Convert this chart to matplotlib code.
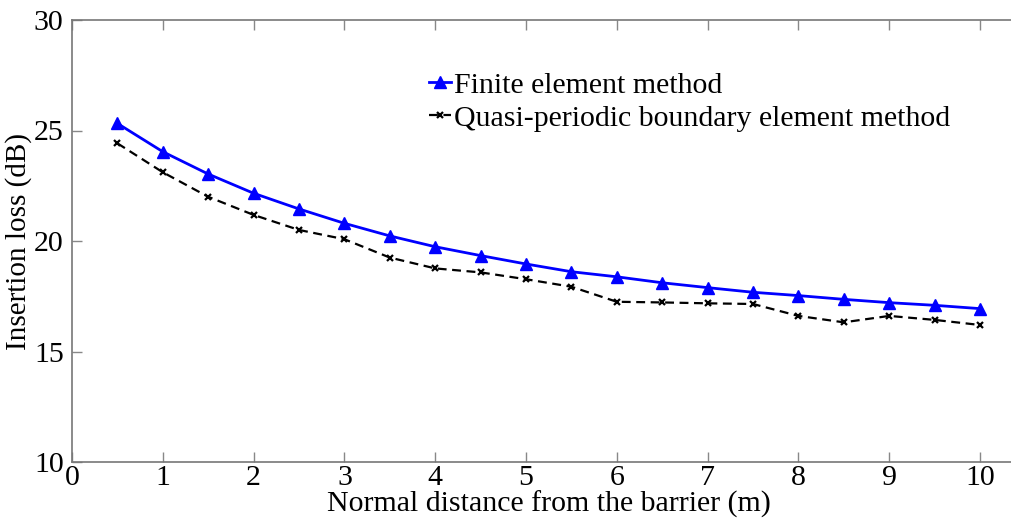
import matplotlib
matplotlib.use("Agg")
import matplotlib.pyplot as plt

x = [0.5, 1, 1.5, 2, 2.5, 3, 3.5, 4, 4.5, 5, 5.5, 6, 6.5, 7, 7.5, 8, 8.5, 9, 9.5, 10]
fem = [25.32, 24.04, 23.03, 22.16, 21.45, 20.80, 20.23, 19.74, 19.34, 18.96,
       18.61, 18.38, 18.11, 17.89, 17.68, 17.53, 17.36, 17.21, 17.09, 16.94]
qpbem = [24.42, 23.11, 22.00, 21.18, 20.50, 20.08, 19.25, 18.76, 18.58, 18.27,
         17.93, 17.25, 17.22, 17.18, 17.15, 16.61, 16.32, 16.61, 16.43, 16.20]
xticks = list(range(0, 11))
yticks = [10, 15, 20, 25, 30]
labels = ["Finite element method", "Quasi-periodic boundary element method"]

plt.rcParams['font.family'] = ['Liberation Serif', 'DejaVu Serif']

W, H = 1011, 520
fig = plt.figure(figsize=(W / 100, H / 100), dpi=100)
# x=0 at px 72, x=10 at px 980 ; y=30 at px 20, y=10 at px 462
x0, x10 = 72, 980
xmax = 10.5
right_px = x0 + (x10 - x0) / 10 * xmax
ax_w = right_px - x0
ax = fig.add_axes([x0 / W, (H - 462) / H, ax_w / W, (462 - 20) / H])

ax.plot(x, fem, color='#0000ff', lw=2.0, marker='^', ms=8, label=labels[0])
ax.plot(x, qpbem, color='black', lw=1.6, ls='--', dashes=(4, 2.5), marker='x',
        ms=5, mew=1.6, label=labels[1])

ax.set_xlim(0, xmax)
ax.set_ylim(10, 30)
ax.set_xticks(xticks)
ax.set_yticks(yticks)
ax.tick_params(direction='in', length=7, width=1, top=True, right=True,
               labelsize=21.5, color='#888888')
ax.tick_params(axis='x', pad=2)
ax.tick_params(axis='y', pad=6)
for s in ax.spines.values():
    s.set_color('#777777')
    s.set_linewidth(1.2)

ax.set_xlabel("Normal distance from the barrier (m)", fontsize=21.5, labelpad=0)
ax.set_ylabel("Insertion loss (dB)", fontsize=21, va='center')
ax.yaxis.set_label_coords((19 - x0) / ax_w, 0.5)

leg = ax.legend(loc='upper left', bbox_to_anchor=((429 - x0) / ax_w, 1 - (72 - 20) / (462 - 20)),
                frameon=False, fontsize=21.5, handlelength=0.75, handletextpad=0.1,
                labelspacing=0.2, borderpad=0, borderaxespad=0)

fig.savefig("out.png", dpi=100)
